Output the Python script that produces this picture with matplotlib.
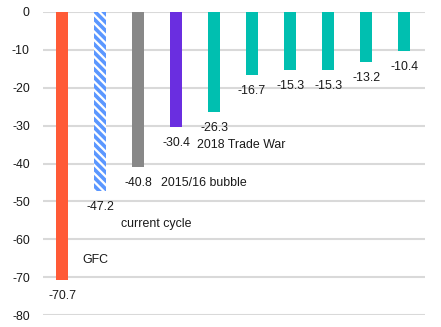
import matplotlib
matplotlib.use("Agg")
import matplotlib.pyplot as plt

plt.rcParams['font.family'] = ['Liberation Sans', 'DejaVu Sans']
plt.rcParams['hatch.linewidth'] = 2.6

values = [-70.7, -47.2, -40.8, -30.4, -26.3, -16.7, -15.3, -15.3, -13.2, -10.4]
colors = ['#FF5A36', 'white', '#888888', '#6A2EE0', '#00BFB0', '#00BFB0',
          '#00BFB0', '#00BFB0', '#00BFB0', '#00BFB0']
event_labels = ['GFC', 'current cycle', '2015/16 bubble', '2018 Trade War']
event_pos = [(0.87, -65.5), (2.47, -55.9), (3.74, -45.1), (4.72, -35.1)]
yticks = [0, -10, -20, -30, -40, -50, -60, -70, -80]

fs = 8.9
fig = plt.figure(figsize=(4.41, 3.27), dpi=100)
ax = fig.add_axes([43/441, 1-315/327, (425-43)/441, (315-12)/327])

for i, (v, c) in enumerate(zip(values, colors)):
    if i == 1:
        ax.bar(i, v, width=0.31, color='white', edgecolor='#5B97FF',
               hatch='\\\\\\\\', linewidth=0, zorder=3)
    else:
        ax.bar(i, v, width=0.31, color=c, linewidth=0, zorder=3)
    ax.annotate(f'{v:.1f}', (i, v), xytext=(0, -11.5), textcoords='offset points',
                ha='center', va='center', fontsize=fs, color='#1A1A1A')

for lab, (px, py) in zip(event_labels, event_pos):
    ax.text(px, py, lab, ha='center', va='center', fontsize=fs, color='#1A1A1A')

ax.set_ylim(-80, 0)
ax.set_xlim(-0.5, 9.55)
ax.set_yticks(yticks)
ax.set_yticklabels([str(t) for t in yticks], fontsize=fs, color='#1A1A1A')
ax.set_xticks([])
ax.tick_params(axis='y', length=0, pad=9.5)
for s in ax.spines.values():
    s.set_visible(False)
ax.yaxis.grid(True, color='#D9D9D9', linewidth=1.5, zorder=0)
ax.set_axisbelow(True)
ax.patch.set_visible(False)

fig.savefig('out.png', dpi=100)
